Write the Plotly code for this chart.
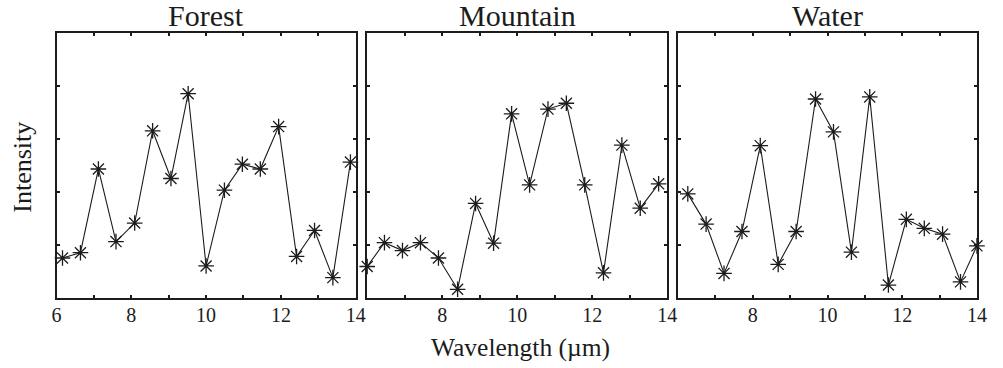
import plotly.graph_objects as go

# Spectral samples for each surface type (wavelength in µm, relative intensity)
panel_titles = ["Forest", "Mountain", "Water"]

forest_wl = [6.16, 6.64, 7.12, 7.59, 8.09, 8.57, 9.06, 9.52, 10.00, 10.49,
             10.97, 11.45, 11.94, 12.42, 12.90, 13.39, 13.86]
forest_int = [0.76, 0.86, 2.44, 1.07, 1.42, 3.16, 2.26, 3.86, 0.61, 2.04,
              2.53, 2.44, 3.24, 0.79, 1.28, 0.39, 2.57]

mountain_wl = [6.00, 6.46, 6.94, 7.42, 7.90, 8.41, 8.89, 9.37, 9.85, 10.33,
               10.82, 11.31, 11.80, 12.30, 12.79, 13.28, 13.77]
mountain_int = [0.60, 1.05, 0.90, 1.05, 0.76, 0.17, 1.79, 1.04, 3.48, 2.14,
                3.57, 3.68, 2.14, 0.48, 2.89, 1.70, 2.16]

water_wl = [6.26, 6.75, 7.23, 7.71, 8.20, 8.68, 9.16, 9.68, 10.16, 10.64,
            11.13, 11.63, 12.11, 12.59, 13.08, 13.56, 14.00]
water_int = [1.97, 1.40, 0.47, 1.26, 2.88, 0.64, 1.26, 3.76, 3.14, 0.87,
             3.80, 0.25, 1.49, 1.32, 1.21, 0.31, 0.99]

x_tick_vals = [6, 7, 8, 9, 10, 11, 12, 13, 14]
forest_tick_text = ["6", "", "8", "", "10", "", "12", "", "14"]
other_tick_text = ["", "", "8", "", "10", "", "12", "", "14"]
y_tick_vals = [0, 1, 2, 3, 4, 5]

series = [
    (forest_wl, forest_int, forest_tick_text),
    (mountain_wl, mountain_int, other_tick_text),
    (water_wl, water_int, other_tick_text),
]

W, H = 1003, 368
INK = "#1c1c1c"
SERIF = "Liberation Serif"

# panel frames in pixels (left, right); shared top/bottom
frames = [(52.3, 356.0), (367.7, 672.3), (683.3, 986.7)]
top_px, bottom_px = 33.3, 298.3
y_dom = [(H - bottom_px) / H, (H - top_px) / H]

fig = go.Figure()
layout = dict(
    width=W, height=H,
    margin=dict(l=0, r=0, t=0, b=0),
    paper_bgcolor="white", plot_bgcolor="white",
    showlegend=False,
    font=dict(family=SERIF, color=INK),
)

annotations = []
for i, ((wl, inten, ttext), title, (l, r)) in enumerate(zip(series, panel_titles, frames)):
    sfx = "" if i == 0 else str(i + 1)
    fig.add_trace(go.Scatter(
        x=wl, y=inten,
        xaxis="x" + sfx, yaxis="y" + sfx,
        mode="lines+markers",
        line=dict(color=INK, width=1.1),
        marker=dict(symbol="asterisk-open", size=13,
                    line=dict(color=INK, width=1.3)),
        cliponaxis=False,
    ))
    layout["xaxis" + sfx] = dict(
        domain=[l / W, r / W], anchor="y" + sfx,
        range=[6, 14], tickvals=x_tick_vals, ticktext=ttext,
        ticks="inside", ticklen=3, tickwidth=1.5, tickcolor=INK,
        showline=True, linewidth=2, linecolor=INK, mirror="allticks",
        showgrid=False, zeroline=False, ticklabelstandoff=-2,
        tickfont=dict(family=SERIF, size=20, color=INK),
    )
    layout["yaxis" + sfx] = dict(
        domain=list(y_dom), anchor="x" + sfx,
        range=[0, 5], tickvals=y_tick_vals, showticklabels=False,
        ticks="inside", ticklen=3, tickwidth=1.5, tickcolor=INK,
        showline=True, linewidth=2, linecolor=INK, mirror="allticks",
        showgrid=False, zeroline=False,
    )
    annotations.append(dict(
        text=title, xref="paper", yref="paper",
        x=(l + r) / 2 / W, y=(H - 15) / H,
        xanchor="center", yanchor="middle", showarrow=False,
        font=dict(family=SERIF, size=30, color=INK),
    ))

annotations.append(dict(
    text="Wavelength (µm)", xref="paper", yref="paper",
    x=523 / W, y=(H - 347) / H, xanchor="center", yanchor="middle",
    showarrow=False, font=dict(family=SERIF, size=25.5, color=INK),
))
annotations.append(dict(
    text="Intensity", xref="paper", yref="paper",
    x=17 / W, y=(H - 167) / H, xanchor="center", yanchor="middle",
    textangle=-90, showarrow=False,
    font=dict(family=SERIF, size=26, color=INK),
))
layout["annotations"] = annotations

fig.update_layout(**layout)
fig.write_html("out.html")
